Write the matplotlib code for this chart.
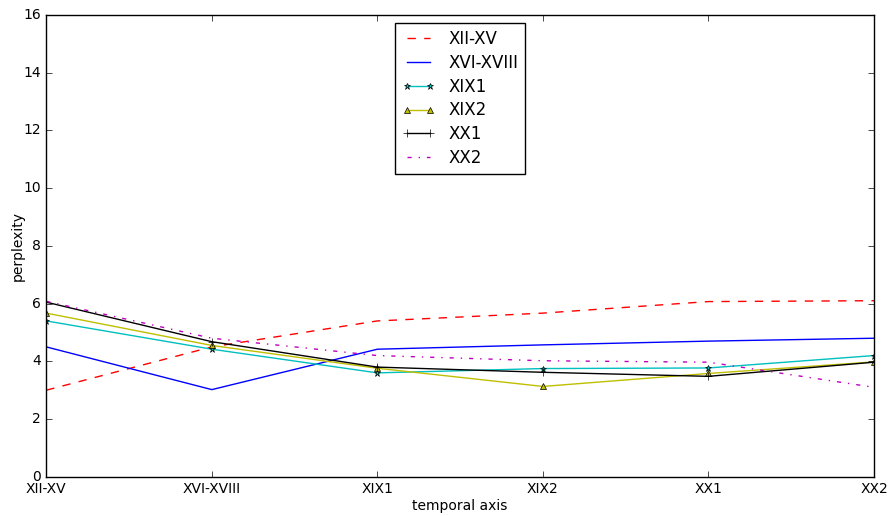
import matplotlib
matplotlib.use("Agg")
import matplotlib.pyplot as plt

periods = ["XII-XV", "XVI-XVIII", "XIX1", "XIX2", "XX1", "XX2"]

ppl_xii_xv = [3.0, 4.5, 5.4, 5.67, 6.07, 6.1]
ppl_xvi_xviii = [4.5, 3.02, 4.42, 4.57, 4.7, 4.8]
ppl_xix1 = [5.4, 4.42, 3.6, 3.75, 3.77, 4.2]
ppl_xix2 = [5.67, 4.55, 3.76, 3.13, 3.58, 3.98]
ppl_xx1 = [6.05, 4.68, 3.8, 3.62, 3.48, 3.97]
ppl_xx2 = [6.08, 4.8, 4.2, 4.02, 3.97, 3.1]

plt.style.use('classic')
fig = plt.figure(figsize=(8.9, 5.16), dpi=100)
ax = fig.add_axes([0.052, 0.076, 0.930, 0.895])

x = range(len(periods))
ax.plot(x, ppl_xii_xv, 'r--', label="XII-XV")
ax.plot(x, ppl_xvi_xviii, 'b-', label="XVI-XVIII")
ax.plot(x, ppl_xix1, 'c-', marker='*', markersize=5, label="XIX1")
ax.plot(x, ppl_xix2, 'y-', marker='^', markersize=5, label="XIX2")
ax.plot(x, ppl_xx1, 'k-', marker='+', markersize=6, label="XX1")
ax.plot(x, ppl_xx2, 'm-.', label="XX2")

ax.set_xticks(list(x))
ax.set_xticklabels(periods)
ax.set_xlim(0, len(periods) - 1)
ax.set_ylim(0, 16)
ax.set_xlabel("temporal axis", fontsize=10, labelpad=2)
ax.set_ylabel("perplexity", fontsize=10, labelpad=-1.5)
ax.tick_params(labelsize=10)
ax.legend(loc="upper center", fontsize=12, labelspacing=0.35,
          borderaxespad=0.5)

fig.savefig("out.png", dpi=100)
